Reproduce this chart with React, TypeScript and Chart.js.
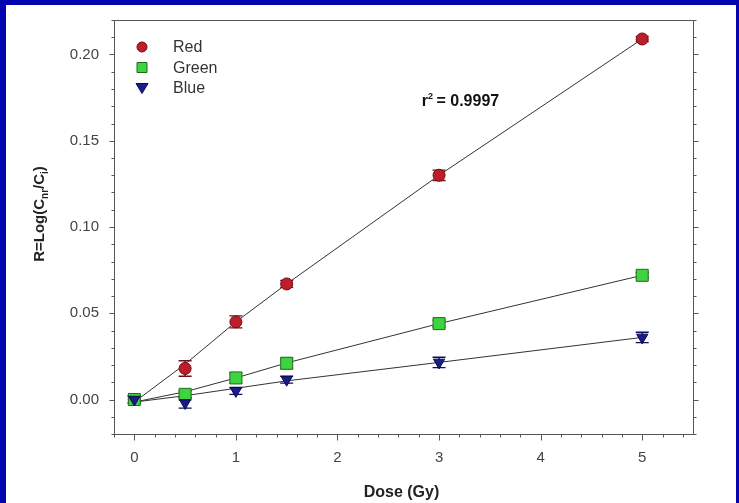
import React, { useEffect, useRef } from 'react';
import { Chart, registerables } from 'chart.js';

Chart.register(...registerables);

// ---- data ----
const dose = [0, 0.5, 1, 1.5, 3, 5];
const redValues = [0.0, 0.018, 0.045, 0.067, 0.13, 0.209];
const redErrors = [0.002, 0.0045, 0.0035, 0.002, 0.003, 0.0015];
const greenValues = [0.0, 0.003, 0.0125, 0.021, 0.044, 0.072];
const greenErrors = [0.002, 0.002, 0.003, 0.003, 0.002, 0.0015];
const blueValues = [0.0, -0.002, 0.005, 0.0115, 0.0215, 0.036];
const blueErrors = [0.002, 0.003, 0.002, 0.002, 0.003, 0.003];

// fitted curves
const redFit = [-0.0015, 0.0205, 0.045, 0.067, 0.13, 0.209];
const greenFit = [-0.0015, 0.0045, 0.0125, 0.0212, 0.044, 0.072];
const blueFit = [-0.0015, 0.0022, 0.0065, 0.0108, 0.0215, 0.036];

const seriesLabels = ['Red', 'Green', 'Blue'];
const xTickValues = [0, 1, 2, 3, 4, 5];
const xTickLabels = ['0', '1', '2', '3', '4', '5'];
const yTickValues = [0, 0.05, 0.1, 0.15, 0.2];
const yTickLabels = ['0.00', '0.05', '0.10', '0.15', '0.20'];
const r2Value = '0.9997';
const r2Anchor = [2.83, 0.1735];

const X_MIN = -0.2;
const X_MAX = 5.5;
const Y_MIN = -0.02;
const Y_MAX = 0.22;

const FONT = '"Liberation Sans", Arial, sans-serif';

const styles = [
  { fill: '#BE1E2A', stroke: '#700A12', bar: '#6E0E16', shape: 'circle' },
  { fill: '#3FD43F', stroke: '#1E6B1E', bar: '#1E4F1E', shape: 'rect' },
  { fill: '#1B1B8A', stroke: '#0A0A50', bar: '#0E0E5E', shape: 'tri' },
];

function drawMarker(ctx: CanvasRenderingContext2D, shape: string, x: number, y: number, fill: string, stroke: string) {
  ctx.save();
  ctx.fillStyle = fill;
  ctx.strokeStyle = stroke;
  ctx.lineWidth = 1;
  ctx.beginPath();
  if (shape === 'circle') {
    ctx.arc(x, y, 5, 0, Math.PI * 2);
  } else if (shape === 'rect') {
    ctx.rect(x - 5, y - 5, 10, 10);
  } else {
    ctx.moveTo(x - 6, y - 4.5);
    ctx.lineTo(x + 6, y - 4.5);
    ctx.lineTo(x, y + 5.5);
    ctx.closePath();
  }
  ctx.fill();
  ctx.stroke();
  ctx.restore();
}

const decorPlugin = {
  id: 'decor',
  beforeDatasetsDraw(chart: any) {
    const ctx: CanvasRenderingContext2D = chart.ctx;
    const xs = chart.scales.x;
    const ys = chart.scales.y;
    const all = [
      [redValues, redErrors],
      [greenValues, greenErrors],
      [blueValues, blueErrors],
    ];
    all.forEach((pair, si) => {
      const vals = pair[0];
      const errs = pair[1];
      ctx.save();
      ctx.strokeStyle = styles[si].bar;
      ctx.lineWidth = 1.4;
      dose.forEach((d, i) => {
        const px = xs.getPixelForValue(d);
        const t = ys.getPixelForValue(vals[i] + errs[i]);
        const b = ys.getPixelForValue(vals[i] - errs[i]);
        ctx.beginPath();
        ctx.moveTo(px, t);
        ctx.lineTo(px, b);
        ctx.moveTo(px - 6.5, t);
        ctx.lineTo(px + 6.5, t);
        ctx.moveTo(px - 6.5, b);
        ctx.lineTo(px + 6.5, b);
        ctx.stroke();
      });
      ctx.restore();
    });
  },
  afterDraw(chart: any) {
    const ctx: CanvasRenderingContext2D = chart.ctx;
    const xs = chart.scales.x;
    const ys = chart.scales.y;
    const { left, right, top, bottom } = chart.chartArea;
    ctx.save();
    // frame
    ctx.strokeStyle = '#555';
    ctx.lineWidth = 1;
    const L = Math.round(left) + 0.5;
    const R = Math.round(right) + 0.5;
    const T = Math.round(top) + 0.5;
    const B = Math.round(bottom) + 0.5;
    ctx.beginPath();
    ctx.rect(L, T, R - L, B - T);
    ctx.stroke();
    // y ticks (left & right)
    ctx.beginPath();
    for (let k = 0; k <= 24; k++) {
      const v = Y_MIN + k * 0.01;
      const major = Math.abs(v / 0.05 - Math.round(v / 0.05)) < 1e-6;
      const py = Math.round(ys.getPixelForValue(v)) + 0.5;
      const len = major ? 5 : 3;
      ctx.moveTo(L - len, py);
      ctx.lineTo(L, py);
      ctx.moveTo(R, py);
      ctx.lineTo(R + len, py);
    }
    // x ticks
    for (let k = 0; k <= 28; k++) {
      const v = X_MIN + k * 0.2;
      const major = Math.abs(v - Math.round(v)) < 1e-6;
      const px = Math.round(xs.getPixelForValue(v)) + 0.5;
      const len = major ? 6 : 3;
      ctx.moveTo(px, B);
      ctx.lineTo(px, B + len);
    }
    ctx.stroke();

    // legend
    seriesLabels.forEach((lab, i) => {
      const y = top + 27 + i * 20.5;
      drawMarker(ctx, styles[i].shape, left + 28, y, styles[i].fill, styles[i].stroke);
      ctx.fillStyle = '#333';
      ctx.font = `16px ${FONT}`;
      ctx.textAlign = 'left';
      ctx.textBaseline = 'middle';
      ctx.fillText(lab, left + 59, y + 1);
    });

    // r^2 annotation
    const rx = xs.getPixelForValue(r2Anchor[0]);
    const ry = ys.getPixelForValue(r2Anchor[1]);
    ctx.fillStyle = '#111';
    ctx.textBaseline = 'alphabetic';
    ctx.font = `bold 16px ${FONT}`;
    ctx.fillText('r', rx, ry + 6);
    const rw = ctx.measureText('r').width;
    ctx.font = `bold 9px ${FONT}`;
    ctx.fillText('2', rx + rw, ry - 1);
    const sw = ctx.measureText('2').width;
    ctx.font = `bold 16px ${FONT}`;
    ctx.fillText(' = ' + r2Value, rx + rw + sw - 1, ry + 6);

    // x title
    ctx.fillStyle = '#222';
    ctx.font = `bold 16px ${FONT}`;
    ctx.textAlign = 'center';
    ctx.textBaseline = 'middle';
    ctx.fillText('Dose (Gy)', (left + right) / 2 - 2, 488);

    // y title with subscripts
    const segs = [
      { t: 'R=Log(C', sub: false },
      { t: 'nr', sub: true },
      { t: '/C', sub: false },
      { t: 'i', sub: true },
      { t: ')', sub: false },
    ];
    const mainF = `bold 15px ${FONT}`;
    const subF = `bold 10px ${FONT}`;
    let total = 0;
    segs.forEach((s) => {
      ctx.font = s.sub ? subF : mainF;
      total += ctx.measureText(s.t).width;
    });
    ctx.translate(33, 209);
    ctx.rotate(-Math.PI / 2);
    ctx.textAlign = 'left';
    ctx.textBaseline = 'alphabetic';
    let cx = -total / 2;
    segs.forEach((s) => {
      ctx.font = s.sub ? subF : mainF;
      ctx.fillText(s.t, cx, s.sub ? 9 : 5);
      cx += ctx.measureText(s.t).width;
    });
    ctx.restore();
  },
};

export default function App() {
  const ref = useRef<HTMLCanvasElement | null>(null);

  useEffect(() => {
    document.body.style.margin = '0';
    document.body.style.background = '#0303B0';
    if (!ref.current) return;
    const pts = (vals: number[], xsArr: number[]) => xsArr.map((x, i) => ({ x, y: vals[i] }));
    const fitStyle = {
      showLine: true,
      pointRadius: 0,
      borderColor: '#333',
      borderWidth: 1,
      backgroundColor: '#333',
      order: 10,
    };
    const chart = new Chart(ref.current, {
      type: 'scatter',
      data: {
        datasets: [
          { label: 'Red fit', data: pts(redFit, dose), ...fitStyle },
          { label: 'Green fit', data: pts(greenFit, dose), ...fitStyle },
          { label: 'Blue fit', data: pts(blueFit, dose), ...fitStyle },
          {
            label: seriesLabels[0],
            data: pts(redValues, dose),
            pointStyle: 'circle',
            pointRadius: 6,
            backgroundColor: styles[0].fill,
            borderColor: styles[0].stroke,
            borderWidth: 1,
            order: 3,
          },
          {
            label: seriesLabels[1],
            data: pts(greenValues, dose),
            pointStyle: 'rect',
            pointRadius: 8.5,
            backgroundColor: styles[1].fill,
            borderColor: styles[1].stroke,
            borderWidth: 1,
            order: 2,
          },
          {
            label: seriesLabels[2],
            data: pts(blueValues, dose),
            pointStyle: 'triangle',
            rotation: 180,
            pointRadius: 6.5,
            backgroundColor: styles[2].fill,
            borderColor: styles[2].stroke,
            borderWidth: 1,
            order: 1,
          },
        ] as any,
      },
      options: {
        animation: false,
        responsive: false,
        maintainAspectRatio: false,
        layout: { padding: { top: 15, right: 43, left: 0, bottom: 0 } },
        plugins: { legend: { display: false }, tooltip: { enabled: false } },
        scales: {
          x: {
            type: 'linear',
            min: X_MIN,
            max: X_MAX,
            afterBuildTicks: (s: any) => {
              s.ticks = xTickValues.map((v) => ({ value: v }));
            },
            afterFit: (s: any) => {
              s.height = 69;
              s.paddingLeft = 0;
              s.paddingRight = 0;
              s.paddingTop = 0;
              s.paddingBottom = 0;
            },
            grid: { display: false, drawTicks: false },
            border: { display: false },
            ticks: {
              autoSkip: false,
              maxRotation: 0,
              padding: 15,
              color: '#444',
              font: { family: FONT, size: 15 },
              callback: (v: any) => xTickLabels[xTickValues.indexOf(Number(v))] ?? '',
            },
          },
          y: {
            type: 'linear',
            min: Y_MIN,
            max: Y_MAX,
            afterBuildTicks: (s: any) => {
              s.ticks = yTickValues.map((v) => ({ value: v }));
            },
            afterFit: (s: any) => {
              s.width = 108;
              s.paddingLeft = 0;
              s.paddingRight = 0;
              s.paddingTop = 0;
              s.paddingBottom = 0;
            },
            grid: { display: false, drawTicks: false },
            border: { display: false },
            ticks: {
              autoSkip: false,
              padding: 15,
              color: '#444',
              font: { family: FONT, size: 15 },
              callback: (v: any) => {
                const idx = yTickValues.findIndex((t) => Math.abs(t - Number(v)) < 1e-9);
                return idx >= 0 ? yTickLabels[idx] : '';
              },
            },
          },
        },
      } as any,
      plugins: [decorPlugin],
    });
    return () => chart.destroy();
  }, []);

  return (
    <div style={{ position: 'relative', width: 739, height: 503, background: '#0303B0', overflow: 'hidden' }}>
      <div style={{ position: 'absolute', left: 6, top: 5, width: 730, height: 498, background: '#fff' }}>
        <canvas ref={ref} width={730} height={498} style={{ display: 'block', width: 730, height: 498 }} />
      </div>
    </div>
  );
}
